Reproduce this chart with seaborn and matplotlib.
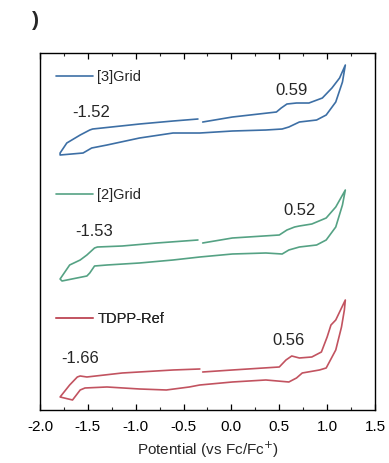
import numpy as np
import pandas as pd
import matplotlib
matplotlib.use("Agg")
import matplotlib.pyplot as plt
import seaborn as sns

# CV loops: potential (V vs Fc/Fc+) and current (a.u.)
# each loop starts at -0.3 V, sweeps to +1.2 V, back to -1.8 V and up to -0.3 V
grid3_v = [-0.30, 0.01, 0.47, 0.52, 0.58, 0.68, 0.81, 0.95, 1.05, 1.13, 1.19,
           1.16, 1.09, 0.99, 0.89, 0.71, 0.60, 0.53, 0.36, 0.01, -0.33, -0.61,
           -0.96, -1.30, -1.46, -1.55, -1.79, -1.79, -1.72, -1.58, -1.48, -1.45,
           -0.96, -0.61, -0.35]
grid3_i = [0.8, 1.3, 1.8, 2.2, 2.6, 2.7, 2.7, 3.2, 4.2, 5.2, 6.5,
           4.8, 2.8, 1.5, 1.0, 0.8, 0.3, 0.1, 0.0, -0.1, -0.3, -0.3,
           -0.8, -1.5, -1.8, -2.3, -2.5, -2.3, -1.3, -0.5, 0.0, 0.1,
           0.6, 0.9, 1.1]

grid2_v = [-0.30, 0.01, 0.50, 0.58, 0.66, 0.71, 0.84, 0.99, 1.09, 1.19,
           1.16, 1.09, 0.99, 0.89, 0.71, 0.60, 0.53, 0.36, 0.01, -0.33, -0.61,
           -0.96, -1.30, -1.43, -1.48, -1.51, -1.77, -1.79, -1.69, -1.58, -1.51,
           -1.43, -1.40, -1.14, -0.78, -0.35]
grid2_i = [1.1, 1.6, 1.9, 2.4, 2.7, 2.8, 3.0, 3.6, 4.7, 6.4,
           4.9, 2.7, 1.4, 0.9, 0.7, 0.4, 0.0, 0.1, 0.0, -0.3, -0.6,
           -0.9, -1.1, -1.2, -1.9, -2.2, -2.7, -2.5, -1.1, -0.6, -0.1,
           0.6, 0.7, 0.8, 1.1, 1.4]

ref_v = [-0.30, 0.01, 0.50, 0.57, 0.63, 0.71, 0.84, 0.94, 1.00, 1.04, 1.09, 1.19,
         1.18, 1.15, 1.09, 0.99, 0.92, 0.74, 0.68, 0.60, 0.36, 0.01, -0.33, -0.44,
         -0.68, -0.96, -1.30, -1.53, -1.58, -1.66, -1.79, -1.69, -1.61, -1.58,
         -1.51, -1.14, -0.61, -0.33]
ref_i = [1.0, 1.2, 1.5, 2.2, 2.6, 2.4, 2.5, 3.0, 4.5, 5.7, 6.2, 8.2,
         7.2, 5.5, 3.2, 1.4, 1.2, 0.9, 0.4, 0.0, 0.2, 0.0, -0.3, -0.5,
         -0.8, -0.7, -0.5, -0.6, -0.8, -1.8, -1.5, -0.3, 0.5, 0.6,
         0.5, 0.9, 1.2, 1.3]

names = ["[3]Grid", "[2]Grid", "TDPP-Ref"]
colors = ["#3d6fa5", "#55a284", "#c25360"]
offsets = [28.0, 15.6, 2.8]
reduction_labels = ["-1.52", "-1.53", "-1.66"]
oxidation_labels = ["0.59", "0.52", "0.56"]
# label anchors (potential, height in plot units)
red_pos = [(-1.46, 29.8), (-1.43, 17.8), (-1.58, 5.1)]
ox_pos = [(0.625, 32.0), (0.71, 20.0), (0.60, 6.9)]

sns.set_theme(style="ticks")
plt.rcParams["font.family"] = ["Liberation Sans", "DejaVu Sans"]

fig = plt.figure(figsize=(3.89, 4.63), dpi=100)
ax = fig.add_axes([0.1028, 0.1145, 0.8612, 0.771])

curves = [(grid3_v, grid3_i), (grid2_v, grid2_i), (ref_v, ref_i)]
legend_y = [0.933, 0.603, 0.255]
for k, (v, i) in enumerate(curves):
    df = pd.DataFrame({"E": v, "I": np.array(i) + offsets[k]})
    sns.lineplot(data=df, x="E", y="I", sort=False, estimator=None,
                 color=colors[k], lw=1.2, ax=ax, label=names[k], legend=False)

handles = ax.get_lines()
for k in range(3):
    leg = ax.legend([handles[k]], [names[k]], loc="center left",
                    bbox_to_anchor=(0.01, legend_y[k]), frameon=False,
                    handlelength=2.5, handletextpad=0.3, fontsize=10.5)
    ax.add_artist(leg)

for k in range(3):
    ax.text(*red_pos[k], reduction_labels[k], ha="center", va="center", fontsize=12)
    ax.text(*ox_pos[k], oxidation_labels[k], ha="center", va="center", fontsize=12)

ax.set_xlim(-2.0, 1.5)
ax.set_ylim(0, 35.7)
ax.set_xticks(np.arange(-2.0, 1.51, 0.5))
ax.set_xticklabels([f"{t:.1f}" for t in np.arange(-2.0, 1.51, 0.5)])
ax.set_xticks(np.arange(-1.75, 1.5, 0.5), minor=True)
ax.set_yticks([])
ax.tick_params(axis="x", which="major", direction="in", length=4, width=0.9,
               top=True, labelsize=11, pad=7, colors="black")
ax.tick_params(axis="x", which="minor", direction="in", length=2.5, width=0.8,
               top=True)
for s in ax.spines.values():
    s.set_visible(True)
    s.set_color("black")
    s.set_linewidth(1.0)
ax.set_xlabel("Potential (vs Fc/Fc$^{+}$)", fontsize=11, labelpad=4)
ax.set_ylabel("")

fig.text(0.09, 0.955, ")", fontsize=15, fontweight="bold", ha="center", va="center")

fig.savefig("out.png", dpi=100)
